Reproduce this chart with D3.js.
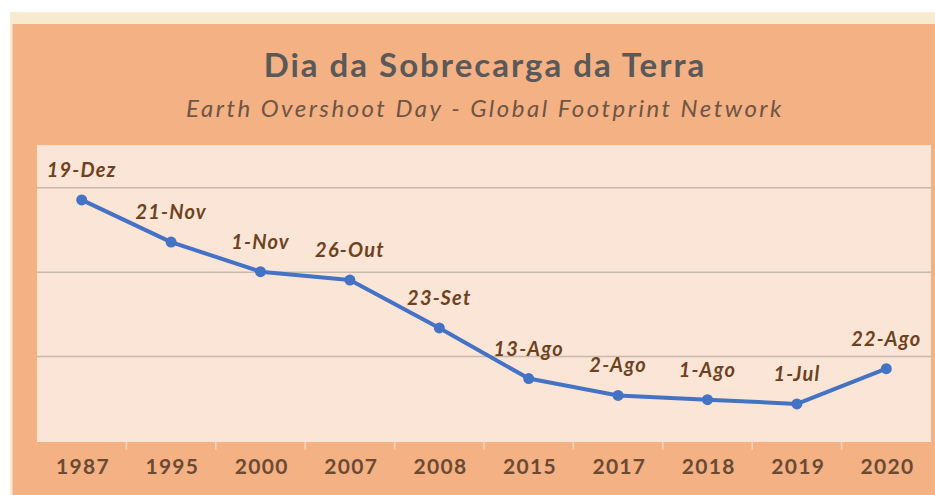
<!DOCTYPE html>
<html>
<head>
<meta charset="utf-8">
<script src="https://cdn.jsdelivr.net/npm/d3@7"></script>
<style>
  html, body { margin: 0; padding: 0; background: #fff; }
  svg { display: block; }
</style>
</head>
<body>
<script>

const W = 935;
const H = 495;

// years on the x axis
const years = ["1987", "1995", "2000", "2007", "2008", "2015", "2017", "2018", "2019", "2020"];
// overshoot day, as day of the year
const dayOfYear = [351, 321, 300, 294, 260, 224, 212, 209, 206, 231];
// label printed above each point
const dayLabels = ["19-Dez", "21-Nov", "1-Nov", "26-Out", "23-Set", "13-Ago", "2-Ago", "1-Ago", "1-Jul", "22-Ago"];
// horizontal gridlines
const gridValues = [240, 300, 360];

const plot = {left: 37, right: 931, top: 145, bottom: 440.5};
const font = "Lato, 'Open Sans', sans-serif";

const svg = d3.select("body")
.append("svg")
.attr("width", W)
.attr("height", H);

// outer frame
svg.append("rect")
.attr("x", 10).attr("y", 12)
.attr("width", W - 10).attr("height", H - 12)
.attr("fill", "#f6ead0");

svg.append("rect")
.attr("x", 12.5).attr("y", 24)
.attr("width", W - 12.5).attr("height", H - 24)
.attr("fill", "#f4b183");

svg.append("rect")
.attr("x", plot.left).attr("y", plot.top)
.attr("width", plot.right - plot.left)
.attr("height", plot.bottom - plot.top + 1.5)
.attr("fill", "#fbe5d6");

const xScale = d3.scaleBand()
.domain(years)
.range([plot.left, plot.right])
.padding(0);

const yScale = d3.scaleLinear()
.domain([180, 390])
.range([plot.bottom, plot.top]);

// gridlines
svg.append("g")
.attr("class", "grid")
.attr("transform", `translate(${plot.left},0)`)
.call(d3.axisLeft(yScale).tickValues(gridValues).tickSize(-(plot.right - plot.left)).tickFormat(""))
.call(g => g.select(".domain").remove())
.call(g => g.selectAll("line").attr("stroke", "#c8b9ad").attr("stroke-width", 1.5));

// x axis: labels at centres, light ticks between bands
const xAxis = d3.axisBottom(xScale).tickSize(0).tickPadding(17);

svg.append("g")
.attr("id", "x-axis")
.attr("transform", `translate(0,${plot.bottom + 1.5})`)
.call(xAxis)
.call(g => g.select(".domain").remove())
.call(g => g.selectAll("text")
  .attr("fill", "#6b4a33")
  .attr("dx", "0.06em")
  .style("font-family", font)
  .style("font-weight", "bold")
  .style("font-size", "21px")
  .style("letter-spacing", "1.3px"));

svg.append("g")
.selectAll("line")
.data(years.slice(1))
.enter()
.append("line")
.attr("x1", d => xScale(d))
.attr("x2", d => xScale(d))
.attr("y1", plot.bottom + 1.5)
.attr("y2", plot.bottom + 9)
.attr("stroke", "#f9d3b8")
.attr("stroke-width", 1.5);

const points = years.map((y, i) => ({year: y, v: dayOfYear[i], label: dayLabels[i]}));

const line = d3.line()
.x(d => xScale(d.year) + xScale.bandwidth() / 2)
.y(d => yScale(d.v));

svg.append("path")
.datum(points)
.attr("d", line)
.attr("fill", "none")
.attr("stroke", "#4472c4")
.attr("stroke-width", 4)
.attr("stroke-linejoin", "round");

svg.selectAll("circle.dot")
.data(points)
.enter()
.append("circle")
.attr("class", "dot")
.attr("cx", d => xScale(d.year) + xScale.bandwidth() / 2)
.attr("cy", d => yScale(d.v))
.attr("r", 5.5)
.attr("fill", "#4472c4");

svg.selectAll("text.lbl")
.data(points)
.enter()
.append("text")
.attr("class", "lbl")
.text(d => d.label)
.attr("x", d => xScale(d.year) + xScale.bandwidth() / 2)
.attr("y", d => yScale(d.v) - 23)
.attr("text-anchor", "middle")
.attr("fill", "#6e4220")
.style("font-family", font)
.style("font-weight", "bold")
.style("font-style", "italic")
.style("font-size", "20px")
.style("letter-spacing", "1.2px");

svg.append("text")
.text("Dia da Sobrecarga da Terra")
.attr("x", 485)
.attr("y", 77)
.attr("text-anchor", "middle")
.attr("fill", "#595959")
.style("font-family", font)
.style("font-weight", "bold")
.style("font-size", "33px")
.style("letter-spacing", "2px");

svg.append("text")
.text("Earth Overshoot Day - Global Footprint Network")
.attr("x", 485)
.attr("y", 117)
.attr("text-anchor", "middle")
.attr("fill", "#6e5545")
.style("font-family", font)
.style("font-style", "italic")
.style("font-size", "24px")
.style("letter-spacing", "2.5px");

</script>
</body>
</html>
